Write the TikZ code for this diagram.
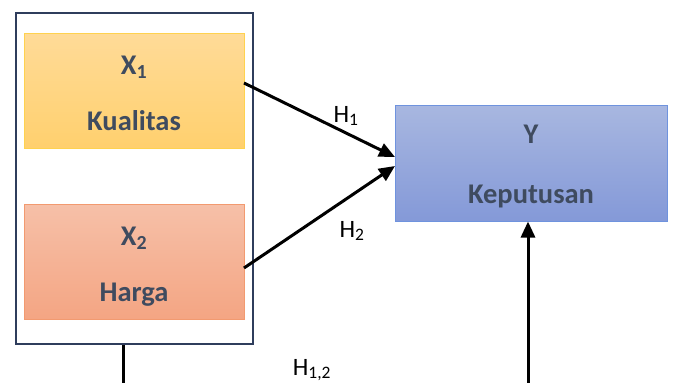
\documentclass[tikz,border=0pt]{standalone}
\usepackage{fontspec}
\setmainfont{Carlito}
\usetikzlibrary{arrows.meta}
\definecolor{txt}{HTML}{3F4B5F}
\definecolor{navy}{HTML}{2F3D5C}
\definecolor{yelT}{HTML}{FFDB98}
\definecolor{yelB}{HTML}{FFD06E}
\definecolor{yelD}{HTML}{FFD24F}
\definecolor{salT}{HTML}{F6C0A8}
\definecolor{salB}{HTML}{F4A583}
\definecolor{salD}{HTML}{F29A70}
\definecolor{bluT}{HTML}{A8B7E0}
\definecolor{bluB}{HTML}{8499D8}
\definecolor{bluD}{HTML}{6F93DE}
\tikzset{
  varbox/.style={draw, line width=1pt, minimum width=220pt, minimum height=115pt, inner sep=0pt},
  vartext/.style={anchor=base, text=txt, font=\fontsize{28.5}{32}\selectfont\bfseries, inner sep=0pt},
  hlabel/.style={anchor=base, font=\fontsize{25}{29}\selectfont, inner sep=0pt},
  conn/.style={line width=3pt, -{Triangle[length=16pt,width=14pt]}},
  plain/.style={line width=3pt}
}
\begin{document}
\begin{tikzpicture}[x=1pt,y=-1pt]
\useasboundingbox (0,0) rectangle (673,383);
% outer box
\node[draw=navy, line width=2pt, minimum width=237pt, minimum height=331pt, inner sep=0pt] (outer) at (134.5,178.5) {};
% boxes
\node[varbox, draw=yelD, top color=yelT, bottom color=yelB] (x1) at (134,90.5) {};
\node[varbox, draw=salD, top color=salT, bottom color=salB] (x2) at (134,262) {};
\node[varbox, draw=bluD, top color=bluT, bottom color=bluB, minimum width=272pt, minimum height=116pt] (y) at (531,163) {};
% texts
\node[vartext] (x1a) at (134,74) {X\textsubscript{1}};
\node[vartext] (x1b) at (134,130) {Kualitas};
\node[vartext] (x2a) at (134,245) {X\textsubscript{2}};
\node[vartext] (x2b) at (134,301) {Harga};
\node[vartext] (ya) at (531,143) {Y};
\node[vartext] (yb) at (531,203) {Keputusan};
% connectors
\coordinate (s1) at (244,83);
\coordinate (s2) at (244,268);
\coordinate (e1) at (395,157);
\coordinate (e2) at (395,166);
\draw[conn] (s1) -- (e1);
\draw[conn] (s2) -- (e2);
\coordinate (b1) at (123,390);
\coordinate (b2) at (528,390);
\draw[plain] (outer.south -| b1) -- (b1);
\draw[conn] (b2) -- (y.south -| b2);
% labels
\node[hlabel] (h1) at (346,122) {H\textsubscript{1}};
\node[hlabel] (h2) at (352,237) {H\textsubscript{2}};
\node[hlabel] (h12) at (312,375) {H\textsubscript{1,2}};
\end{tikzpicture}
\end{document}
